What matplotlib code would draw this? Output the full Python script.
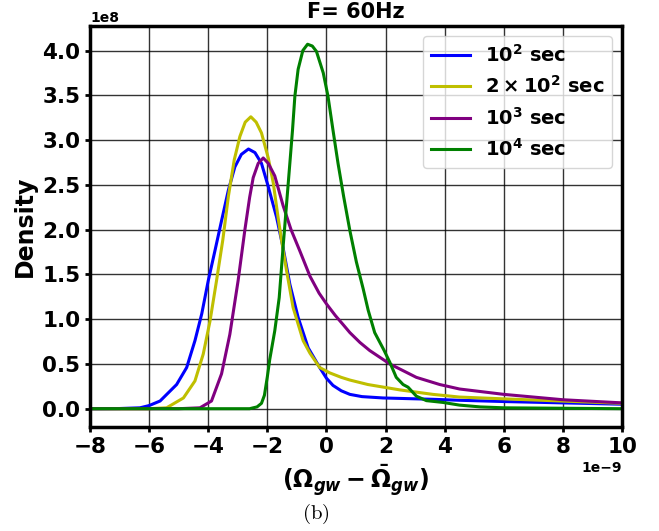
import numpy as np
import matplotlib.pyplot as plt

plt.rcParams['font.weight'] = 'bold'
plt.rcParams['axes.labelweight'] = 'bold'
plt.rcParams['axes.titleweight'] = 'bold'

# x in units of 1e-9, density in units of 1e8
x_1e2 = [-8, -7, -6.31, -6.0, -5.63, -5.07, -4.73, -4.45, -4.22, -4.0, -3.77, -3.55,
         -3.32, -3.10, -2.88, -2.64, -2.42, -2.2, -1.97, -1.69, -1.47, -1.24, -0.96,
         -0.62, -0.23, 0.0, 0.22, 0.5, 0.79, 1.2, 1.91, 3.6, 4.5, 6.0, 8.0, 10]
y_1e2 = [0.0, 0.002, 0.01, 0.035, 0.086, 0.27, 0.46, 0.76, 1.06, 1.43, 1.77, 2.10,
         2.44, 2.70, 2.84, 2.90, 2.86, 2.74, 2.48, 2.14, 1.80, 1.39, 1.02,
         0.68, 0.46, 0.34, 0.26, 0.20, 0.16, 0.135, 0.12, 0.105, 0.094, 0.08, 0.065, 0.05]

x_2e2 = [-8, -6, -5.41, -4.84, -4.45, -4.17, -3.94, -3.72, -3.51, -3.32, -3.12, -2.93,
         -2.75, -2.56, -2.38, -2.2, -1.97, -1.80, -1.64, -1.52, -1.35, -1.13, -0.79,
         -0.56, -0.23, 0.11, 0.5, 0.79, 1.4, 2.48, 3.6, 4.5, 6.0, 8, 10]
y_2e2 = [0.0, 0.0, 0.01, 0.12, 0.31, 0.61, 0.98, 1.43, 1.88, 2.37, 2.78, 3.04,
         3.20, 3.26, 3.20, 3.08, 2.80, 2.52, 2.14, 1.88, 1.54, 1.13, 0.76,
         0.62, 0.46, 0.40, 0.35, 0.32, 0.27, 0.21, 0.16, 0.13, 0.11, 0.085, 0.06]

x_1e3 = [-8, -5, -4.28, -3.89, -3.55, -3.27, -2.99, -2.76, -2.6, -2.48, -2.31, -2.14,
         -1.97, -1.75, -1.47, -1.2, -0.90, -0.56, -0.25, 0.0, 0.3, 0.56, 0.79, 1.13,
         1.46, 2.14, 3.04, 3.83, 4.5, 6.0, 8.0, 10]
y_1e3 = [0.0, 0.0, 0.01, 0.086, 0.39, 0.83, 1.43, 2.0, 2.36, 2.58, 2.74, 2.80,
         2.74, 2.60, 2.27, 2.0, 1.76, 1.48, 1.29, 1.17, 1.04, 0.94, 0.85, 0.74,
         0.65, 0.50, 0.35, 0.27, 0.22, 0.16, 0.10, 0.065]

x_1e4 = [-8, -2.6, -2.48, -2.35, -2.2, -2.1, -2.0, -1.92, -1.75, -1.60, -1.47, -1.35,
         -1.24, -1.15, -1.07, -0.96, -0.80, -0.64, -0.48, -0.34, -0.11, 0.05, 0.22,
         0.39, 0.58, 0.79, 1.01, 1.24, 1.41, 1.63, 1.95, 2.14, 2.36, 2.59, 2.76,
         3.04, 3.38, 3.94, 4.5, 5.2, 6.0, 8.0, 10]
y_1e4 = [0.0, 0.0, 0.01, 0.02, 0.06, 0.15, 0.36, 0.55, 0.87, 1.24, 1.80, 2.29,
         2.74, 3.11, 3.49, 3.79, 4.0, 4.07, 4.05, 3.99, 3.75, 3.49, 3.11,
         2.74, 2.37, 1.99, 1.64, 1.34, 1.10, 0.85, 0.65, 0.52, 0.35, 0.27, 0.24,
         0.14, 0.09, 0.07, 0.04, 0.02, 0.01, 0.005, 0.0]

labels = [r'$\mathbf{10^2}$ sec', r'$\mathbf{2\times10^2}$ sec',
          r'$\mathbf{10^3}$ sec', r'$\mathbf{10^4}$ sec']
colors = ['b', 'y', 'purple', 'g']
series = [(x_1e2, y_1e2), (x_2e2, y_2e2), (x_1e3, y_1e3), (x_1e4, y_1e4)]

fig = plt.figure(figsize=(6.59, 5.31), dpi=100)
ax = fig.add_axes([0.1366, 0.196, 0.8074, 0.755])

for (xs, ys), c, lab in zip(series, colors, labels):
    ax.plot(np.array(xs) * 1e-9, np.array(ys) * 1e8, color=c, lw=2.2, label=lab)

ax.set_xlim(-8e-9, 10e-9)
ax.set_xticks(np.arange(-8, 11, 2) * 1e-9)
ax.ticklabel_format(axis='x', style='sci', scilimits=(-9, -9))
ax.grid(True, color='k', lw=1, alpha=0.8)
ax.tick_params(labelsize=15.5, width=2)
for s in ax.spines.values():
    s.set_linewidth(2.5)
for t in (ax.xaxis.get_offset_text(), ax.yaxis.get_offset_text()):
    t.set_fontsize(10)
    t.set_fontweight('bold')

ax.set_title('F= 60Hz', fontsize=15)
ax.set_ylabel('Density', fontsize=17)
ax.set_xlabel(r'$\boldsymbol{(\Omega_{gw}-\bar{\Omega}_{gw})}$', fontsize=17)
ax.legend(loc='upper right', fontsize=14)

fig.text(0.48, 0.032, r'$\mathrm{(b)}$', math_fontfamily='cm', fontsize=15,
         ha='center', va='center')

fig.savefig('out.png', dpi=100)
